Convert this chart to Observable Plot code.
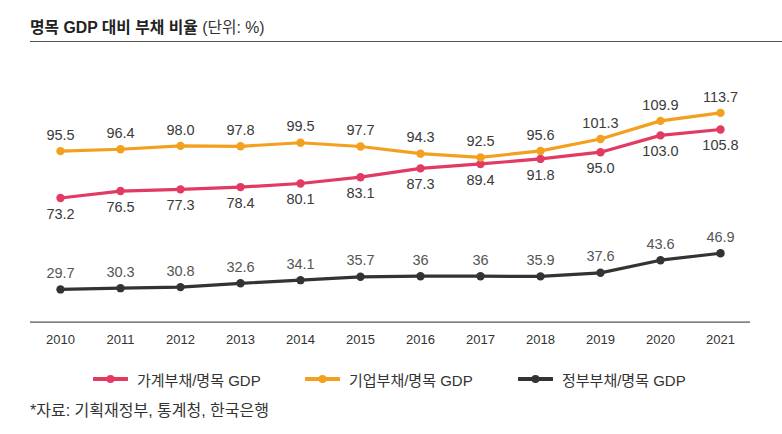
<!DOCTYPE html>
<html>
<head>
<meta charset="utf-8">
<script src="https://cdn.jsdelivr.net/npm/d3@7"></script>
<script src="https://cdn.jsdelivr.net/npm/@observablehq/plot@0.6"></script>
<style>
  html, body { margin: 0; padding: 0; background: #fff; }
  #wrap { position: relative; width: 782px; height: 434px; overflow: hidden;
    font-family: "Liberation Sans", "Noto Sans CJK KR", sans-serif; color: #333; }
  #title { position: absolute; left: 30px; top: 18px; font-size: 15.8px; line-height: 20px; color: #222; white-space: nowrap; }
  #title b { font-weight: 700; }
  #title span { font-weight: 400; color: #333; }
  #hr { position: absolute; left: 30px; top: 41px; width: 752px; height: 0; border-top: 1px solid #555; }
  #chart { position: absolute; left: 0; top: 45px; }
  .leg { position: absolute; top: 369px; height: 20px; display: flex; align-items: center; font-size: 15px; color: #333; white-space: nowrap; }
  .leg svg { margin-right: 9px; }
  #caption { position: absolute; left: 30px; top: 401px; font-size: 16px; line-height: 20px; color: #333; white-space: nowrap; }
</style>
</head>
<body>
<div id="wrap">
  <div id="title"><b>명목 GDP 대비 부채 비율</b> <span>(단위: %)</span></div>
  <div id="hr"></div>
  <div id="chart"></div>
  <div id="legend"></div>
  <div id="caption">*자료: 기획재정부, 통계청, 한국은행</div>
</div>
<script>
const years = [2010, 2011, 2012, 2013, 2014, 2015, 2016, 2017, 2018, 2019, 2020, 2021];
const household = [73.2, 76.5, 77.3, 78.4, 80.1, 83.1, 87.3, 89.4, 91.8, 95.0, 103.0, 105.8];
const corporate = [95.5, 96.4, 98.0, 97.8, 99.5, 97.7, 94.3, 92.5, 95.6, 101.3, 109.9, 113.7];
const government = [29.7, 30.3, 30.8, 32.6, 34.1, 35.7, 36, 36, 35.9, 37.6, 43.6, 46.9];
const householdLabels = ["73.2","76.5","77.3","78.4","80.1","83.1","87.3","89.4","91.8","95.0","103.0","105.8"];
const corporateLabels = ["95.5","96.4","98.0","97.8","99.5","97.7","94.3","92.5","95.6","101.3","109.9","113.7"];
const governmentLabels = ["29.7","30.3","30.8","32.6","34.1","35.7","36","36","35.9","37.6","43.6","46.9"];
const seriesNames = ["가계부채/명목 GDP", "기업부채/명목 GDP", "정부부채/명목 GDP"];
const seriesColors = ["#e23a62", "#f2a01e", "#333333"];

const series = [
  {name: seriesNames[0], values: household, labels: householdLabels, color: seriesColors[0], dy: 16, labelColor: "#3a3a3a"},
  {name: seriesNames[1], values: corporate, labels: corporateLabels, color: seriesColors[1], dy: -16, labelColor: "#3a3a3a"},
  {name: seriesNames[2], values: government, labels: governmentLabels, color: seriesColors[2], dy: -16, labelColor: "#555"}
];

const rows = s => years.map((y, i) => ({year: y, value: s.values[i], label: s.labels[i], series: s.name}));

const marks = [
  Plot.ruleY([14.1], {stroke: "#555", strokeWidth: 1.3, insetLeft: -30, insetRight: -30}),
  Plot.axisX({ticks: years, tickFormat: d => String(d), tickSize: 0, tickPadding: 13,
    fontSize: 13, fill: "#333", label: null})
];
for (const s of series) {
  const data = rows(s);
  marks.push(Plot.line(data, {x: "year", y: "value", stroke: s.color, strokeWidth: 3.2}));
  marks.push(Plot.dot(data, {x: "year", y: "value", fill: s.color, r: 4.2}));
  marks.push(Plot.text(data, {x: "year", y: "value", text: "label", dy: s.dy, fill: s.labelColor,
    fontSize: 14.5, fontFamily: "Liberation Sans, sans-serif"}));
}

const chart = Plot.plot({
  width: 782,
  height: 305,
  marginLeft: 60,
  marginRight: 62,
  marginTop: 33.15,
  marginBottom: 28.3,
  x: {domain: [2010, 2021], axis: null},
  y: {domain: [14.1, 130], axis: null},
  style: {fontFamily: "Liberation Sans, sans-serif", background: "transparent", overflow: "visible"},
  marks
});
document.getElementById("chart").appendChild(chart);

// legend
const legPos = [93, 305, 518];
const legend = document.getElementById("legend");
series.forEach((s, i) => {
  const div = document.createElement("div");
  div.className = "leg";
  div.style.left = legPos[i] + "px";
  div.innerHTML = `<svg width="35" height="10"><line x1="1" x2="34" y1="5" y2="5" stroke="${s.color}" stroke-width="4" stroke-linecap="round"/><circle cx="17.5" cy="5" r="4" fill="${s.color}"/></svg><span>${s.name}</span>`;
  legend.appendChild(div);
});
</script>
</body>
</html>
